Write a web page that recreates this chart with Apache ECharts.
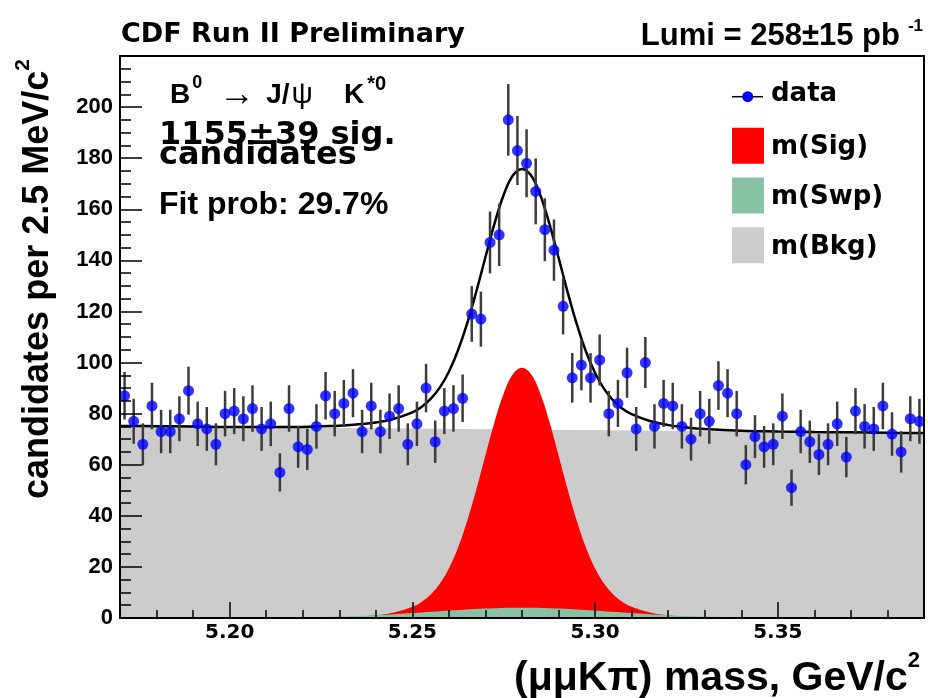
<!DOCTYPE html>
<html>
<head>
<meta charset="utf-8">
<title>B0 → J/ψ K*0 mass fit</title>
<script src="https://cdn.jsdelivr.net/npm/echarts@6.0.0/dist/echarts.min.js"></script>
<style>
  html, body { margin: 0; padding: 0; background: #ffffff; }
  #chart { width: 928px; height: 698px; }
</style>
</head>
<body>
<div id="chart"></div>
<script>
// Histogram binning of the (mu mu K pi) invariant mass, GeV/c^2
const HIST_MIN = 5.17;
const HIST_MAX = 5.39;
const BIN_WIDTH = 0.0025;

// Candidates per 2.5 MeV/c^2 bin
const counts = [
  87, 77, 68, 83, 73, 73, 78, 89, 76, 74, 68,
  80, 81, 78, 82, 74, 76, 57, 82, 67, 66, 75,
  87, 80, 84, 88, 73, 83, 73, 79, 82, 68, 76,
  90, 69, 81, 82, 86, 119, 117, 147, 150, 195, 183,
  178, 167, 152, 144, 122, 94, 99, 94, 101, 80, 84,
  96, 74, 100, 75, 84, 83, 75, 70, 80, 77, 91,
  88, 80, 60, 71, 67, 68, 79, 51, 73, 69, 64,
  68, 76, 63, 81, 75, 74, 83, 72, 65, 78, 77
];

// Statistical error of each bin
const countErrors = [
  9.3, 8.8, 8.2, 9.1, 8.5, 8.5, 8.8, 9.4, 8.7, 8.6, 8.2,
  8.9, 9.0, 8.8, 9.1, 8.6, 8.7, 7.5, 9.1, 8.2, 8.1, 8.7,
  9.3, 8.9, 9.2, 9.4, 8.5, 9.1, 8.5, 8.9, 9.1, 8.2, 8.7,
  9.5, 8.3, 9.0, 9.1, 9.3, 10.9, 10.8, 12.1, 12.2, 14.0, 13.5,
  13.3, 12.9, 12.3, 12.0, 11.0, 9.7, 9.9, 9.7, 10.0, 8.9, 9.2,
  9.8, 8.6, 10.0, 8.7, 9.2, 9.1, 8.7, 8.4, 8.9, 8.8, 9.5,
  9.4, 8.9, 7.7, 8.4, 8.2, 8.2, 8.9, 7.1, 8.5, 8.3, 8.0,
  8.2, 8.7, 7.9, 9.0, 8.7, 8.6, 9.1, 8.5, 8.1, 8.8, 8.8
];

// Fit projection sampled along the mass axis
const fitMass = [
  5.17, 5.18, 5.19, 5.20, 5.21, 5.22, 5.23, 5.235, 5.24, 5.245,
  5.25, 5.2525, 5.255, 5.2575, 5.26, 5.2625, 5.265, 5.2675, 5.27, 5.2725,
  5.275, 5.2775, 5.28, 5.2825, 5.285, 5.2875, 5.29, 5.2925, 5.295, 5.2975,
  5.30, 5.3025, 5.305, 5.3075, 5.31, 5.315, 5.32, 5.325, 5.33, 5.34,
  5.35, 5.36, 5.37, 5.38, 5.39
];
const fitTotal = [
  75.2, 75.1, 75.0, 74.8, 74.8, 74.8, 75.3, 75.8, 76.5, 78.0,
  80.5, 82.6, 85.8, 90.2, 96.4, 104.8, 115.3, 127.8, 141.3, 154.5,
  165.7, 173.2, 175.8, 173.2, 165.6, 154.3, 141.1, 127.5, 115.0, 104.3,
  95.9, 89.6, 85.1, 81.9, 79.8, 77.1, 75.5, 74.6, 74.0, 73.3,
  73.0, 72.8, 72.7, 72.5, 72.4
];
const sigShape = [
  0, 0, 0, 0, 0, 0.05, 0.3, 0.6, 1.1, 2.2,
  4.4, 6.3, 9.2, 13.4, 19.4, 27.6, 38.0, 50.3, 63.7, 76.8,
  87.9, 95.4, 98.0, 95.4, 87.9, 76.8, 63.7, 50.3, 38.0, 27.6,
  19.4, 13.4, 9.2, 6.3, 4.4, 2.2, 1.1, 0.6, 0.3, 0.05,
  0, 0, 0, 0, 0
];
const swpShape = [
  0, 0, 0.01, 0.02, 0.08, 0.22, 0.54, 0.79, 1.11, 1.50,
  1.95, 2.19, 2.43, 2.67, 2.90, 3.13, 3.34, 3.53, 3.69, 3.82,
  3.92, 3.98, 4.00, 3.98, 3.92, 3.82, 3.69, 3.53, 3.34, 3.13,
  2.90, 2.67, 2.43, 2.19, 1.95, 1.50, 1.11, 0.79, 0.54, 0.22,
  0.08, 0.02, 0.01, 0, 0
];
const bkgMass = [5.17, 5.39];
const bkgLevel = [75.2, 72.4];

// Axis ticks
const xMajorTicks = ['5.20', '5.25', '5.30', '5.35'];
const xMinorTicks = [5.18, 5.19, 5.21, 5.22, 5.23, 5.24, 5.26, 5.27, 5.28, 5.29,
                     5.31, 5.32, 5.33, 5.34, 5.36, 5.37, 5.38];
const yTickLabels = ['0', '20', '40', '60', '80', '100', '120', '140', '160', '180', '200'];

const FONT_A = '"Liberation Sans", Arial, Helvetica, sans-serif';
const FONT_D = '"DejaVu Sans", sans-serif';

const COLOR_SIG = '#ff0000';
const COLOR_SWP = '#86c2a3';
const COLOR_BKG = '#cccccc';
const COLOR_DATA = '#0000ff';

function binCenter(i) {
  return HIST_MIN + (i + 0.5) * BIN_WIDTH;
}

const pointData = counts.map((c, i) => [binCenter(i), c]);
const errorData = counts.map((c, i) => [binCenter(i), c, countErrors[i]]);
const pair = (xs, ys) => xs.map((x, i) => [x, ys[i]]);

function boldText(family, size, extra) {
  return Object.assign({ fontFamily: family, fontWeight: 'bold', fontSize: size, fill: '#000' }, extra || {});
}

const graphics = [
  // header
  { type: 'text', x: 121, y: 35, style: boldText(FONT_D, 27, { text: 'CDF Run II Preliminary', align: 'left', verticalAlign: 'middle' }) },
  { type: 'text', x: 923, y: 36, style: {
      text: '{b|Lumi = 258±15 pb}{s|-1}', align: 'right', verticalAlign: 'middle',
      rich: {
        b: boldText(FONT_A, 31, { lineHeight: 37 }),
        s: boldText(FONT_A, 17, { lineHeight: 17, verticalAlign: 'top', padding: [0, 0, 0, 8] })
      }
  } },
  // decay channel and fit summary
  { type: 'text', x: 170, y: 95, style: {
      text: '{b|B}{s|0}{a|→}{j|J/}{g|ψ}{k|K}{t|*0}', align: 'left', verticalAlign: 'middle',
      rich: {
        b: boldText(FONT_A, 28, { lineHeight: 42 }),
        s: boldText(FONT_A, 18, { lineHeight: 18, verticalAlign: 'top', padding: [0, 0, 0, 2] }),
        a: { fontFamily: FONT_A, fontWeight: 'normal', fontSize: 36, lineHeight: 42, fill: '#000', padding: [0, 0, 0, 17] },
        j: boldText(FONT_A, 28, { lineHeight: 42, padding: [0, 0, 0, 11] }),
        g: { fontFamily: FONT_A, fontWeight: 'normal', fontSize: 30, lineHeight: 42, fill: '#000', padding: [0, 0, 0, 2] },
        k: boldText(FONT_A, 28, { lineHeight: 42, padding: [0, 0, 0, 31] }),
        t: boldText(FONT_A, 20, { lineHeight: 20, verticalAlign: 'top', padding: [0, 0, 0, 3] })
      }
  } },
  { type: 'text', x: 159, y: 136, style: boldText(FONT_D, 32, { text: '1155±39 sig.', align: 'left', verticalAlign: 'middle' }) },
  { type: 'text', x: 159, y: 155.5, style: boldText(FONT_D, 32, { text: 'candidates', align: 'left', verticalAlign: 'middle' }) },
  { type: 'text', x: 159, y: 205, style: boldText(FONT_A, 32, { text: 'Fit prob: 29.7%', align: 'left', verticalAlign: 'middle' }) },
  // legend
  { type: 'line', shape: { x1: 732, y1: 96.7, x2: 763, y2: 96.7 }, style: { stroke: '#000', lineWidth: 1.5 } },
  { type: 'circle', shape: { cx: 747.7, cy: 96.7, r: 5.5 }, style: { fill: COLOR_DATA } },
  { type: 'text', x: 771, y: 94.5, style: boldText(FONT_D, 26, { text: 'data', align: 'left', verticalAlign: 'middle' }) },
  { type: 'rect', shape: { x: 732, y: 127.7, width: 32, height: 36 }, style: { fill: COLOR_SIG } },
  { type: 'text', x: 771, y: 147.2, style: boldText(FONT_D, 26, { text: 'm(Sig)', align: 'left', verticalAlign: 'middle' }) },
  { type: 'rect', shape: { x: 732, y: 177.5, width: 32, height: 36 }, style: { fill: COLOR_SWP } },
  { type: 'text', x: 771, y: 197, style: boldText(FONT_D, 26, { text: 'm(Swp)', align: 'left', verticalAlign: 'middle' }) },
  { type: 'rect', shape: { x: 732, y: 227.3, width: 32, height: 36 }, style: { fill: COLOR_BKG } },
  { type: 'text', x: 771, y: 246.8, style: boldText(FONT_D, 26, { text: 'm(Bkg)', align: 'left', verticalAlign: 'middle' }) },
  // axis titles
  { type: 'text', x: 38.5, y: 279, rotation: Math.PI / 2, style: {
      text: '{b|candidates per 2.5 MeV/c}{s|2}', align: 'center', verticalAlign: 'middle',
      rich: {
        b: boldText(FONT_A, 36, { lineHeight: 52 }),
        s: boldText(FONT_A, 21, { lineHeight: 21, verticalAlign: 'top' })
      }
  } },
  { type: 'text', x: 920, y: 678.5, style: {
      text: '{b|(μμKπ) mass, GeV/c}{s|2}', align: 'right', verticalAlign: 'middle',
      rich: {
        b: boldText(FONT_A, 41, { lineHeight: 58 }),
        s: boldText(FONT_A, 22, { lineHeight: 22, verticalAlign: 'top' })
      }
  } }
];

const tickLine = { color: '#000', width: 1.5 };

const option = {
  animation: false,
  backgroundColor: '#ffffff',
  grid: { left: 120, right: 4, top: 56, bottom: 80, show: true, borderColor: '#000', borderWidth: 2, z: 10 },
  xAxis: [
    {
      type: 'value', min: HIST_MIN, max: HIST_MAX, position: 'bottom', z: 10,
      axisLine: { show: true, onZero: false, lineStyle: { color: '#000', width: 2 } },
      axisTick: { show: true, inside: true, length: 16, customValues: xMajorTicks.map(Number), lineStyle: tickLine },
      axisLabel: {
        customValues: xMajorTicks.map(Number), margin: 5, color: '#000',
        fontFamily: FONT_D, fontWeight: 'bold', fontSize: 20,
        formatter: v => xMajorTicks.find(t => Math.abs(Number(t) - v) < 1e-6) || ''
      },
      splitLine: { show: false }
    },
    {
      type: 'value', min: HIST_MIN, max: HIST_MAX, position: 'bottom', z: 10,
      axisLine: { show: false },
      axisTick: { show: true, inside: true, length: 8, customValues: xMinorTicks, lineStyle: tickLine },
      axisLabel: { show: false },
      splitLine: { show: false }
    }
  ],
  yAxis: {
    type: 'value', min: 0, max: 220, interval: 20, z: 10,
    axisLine: { show: true, lineStyle: { color: '#000', width: 2 } },
    axisTick: { show: true, inside: true, length: 22, lineStyle: tickLine },
    minorTick: { show: true, splitNumber: 4, length: 11, lineStyle: tickLine },
    splitLine: { show: false },
    minorSplitLine: { show: false },
    axisLabel: {
      margin: 7, color: '#000', fontFamily: FONT_A, fontWeight: 'bold', fontSize: 22,
      formatter: v => (yTickLabels.includes(String(v)) ? String(v) : '')
    }
  },
  series: [
    {
      name: 'm(Bkg)', type: 'line', z: 1, data: pair(bkgMass, bkgLevel),
      symbol: 'none', lineStyle: { width: 0 }, itemStyle: { color: COLOR_BKG },
      areaStyle: { color: COLOR_BKG, opacity: 1 }, silent: true
    },
    {
      name: 'm(Sig)', type: 'line', z: 2, data: pair(fitMass, sigShape),
      smooth: 0.4, symbol: 'none', lineStyle: { width: 0 }, itemStyle: { color: COLOR_SIG },
      areaStyle: { color: COLOR_SIG, opacity: 1 }, silent: true
    },
    {
      name: 'm(Swp)', type: 'line', z: 3, data: pair(fitMass, swpShape),
      smooth: 0.4, symbol: 'none', lineStyle: { width: 0 }, itemStyle: { color: COLOR_SWP },
      areaStyle: { color: COLOR_SWP, opacity: 1 }, silent: true
    },
    {
      name: 'fit', type: 'line', z: 4, data: pair(fitMass, fitTotal),
      smooth: 0.4, symbol: 'none', lineStyle: { color: '#000', width: 2.5 }, silent: true
    },
    {
      name: 'errors', type: 'custom', z: 5, data: errorData, silent: true, clip: true,
      encode: { x: 0, y: 1 },
      renderItem(params, api) {
        const x = api.value(0), y = api.value(1), e = api.value(2);
        const lo = api.coord([x, y - e]);
        const hi = api.coord([x, y + e]);
        return {
          type: 'line',
          shape: { x1: lo[0], y1: lo[1], x2: hi[0], y2: hi[1] },
          style: { stroke: '#3c3c3c', lineWidth: 2.5 }
        };
      }
    },
    {
      name: 'data', type: 'scatter', z: 6, data: pointData,
      symbol: 'circle', symbolSize: 11, itemStyle: { color: COLOR_DATA }, silent: true
    }
  ],
  graphic: graphics
};

const chart = echarts.init(document.getElementById('chart'), null, { renderer: 'canvas' });
chart.setOption(option);
</script>
</body>
</html>
